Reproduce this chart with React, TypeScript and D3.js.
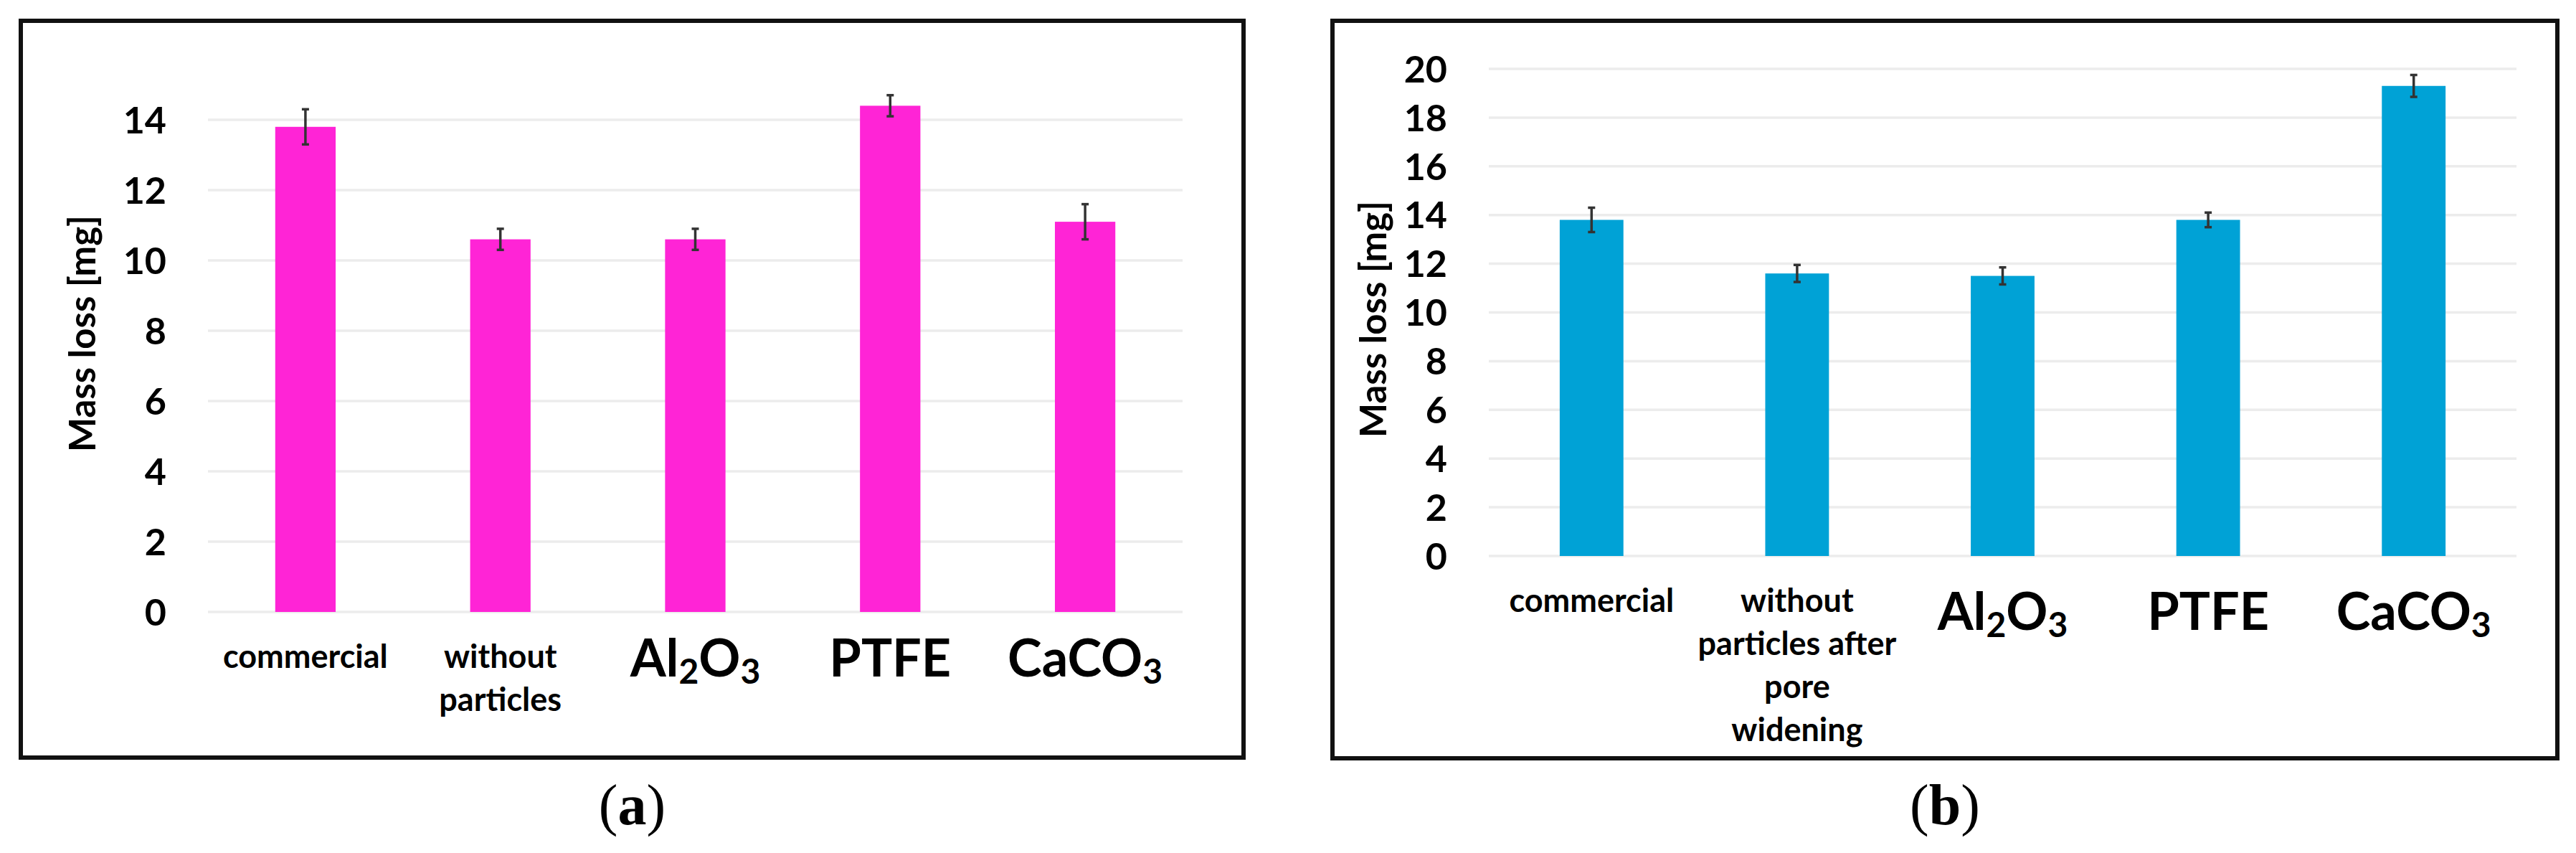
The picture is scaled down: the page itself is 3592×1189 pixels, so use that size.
import * as d3 from "d3"
import { useEffect, useRef } from "react"

const categoriesA = ["commercial", "without particles", "Al2O3", "PTFE", "CaCO3"]
const valuesA = [13.8, 10.6, 10.6, 14.4, 11.1]
const errorsA = [0.5, 0.3, 0.3, 0.3, 0.5]
const ticksA = [0, 2, 4, 6, 8, 10, 12, 14]

const categoriesB = [
  "commercial",
  "without particles after pore widening",
  "Al2O3",
  "PTFE",
  "CaCO3",
]
const valuesB = [13.8, 11.6, 11.5, 13.8, 19.3]
const errorsB = [0.5, 0.35, 0.35, 0.3, 0.45]
const ticksB = [0, 2, 4, 6, 8, 10, 12, 14, 16, 18, 20]

// labels drawn large, like the source figure
const bigLabels = ["Al2O3", "PTFE", "CaCO3"]

const lineBreaks: Record<string, string[]> = {
  "without particles": ["without", "particles"],
  "without particles after pore widening": ["without", "particles after", "pore", "widening"],
}

const FONT = "Lato, 'Open Sans', sans-serif"

type Panel = {
  cats: string[]
  values: number[]
  errors: number[]
  ticks: number[]
  yMax: number
  color: string
  frame: [number, number, number, number]
  plot: { left: number; right: number; top: number; bottom: number }
  titleX: number
  titleY: number
  bigOffset: number
  tag: string
}

const panels: Panel[] = [
  {
    cats: categoriesA,
    values: valuesA,
    errors: errorsA,
    ticks: ticksA,
    yMax: 15,
    color: "#ff24d6",
    frame: [29, 29, 1734, 1056],
    plot: { left: 290, right: 1649, top: 118, bottom: 853 },
    titleX: 115,
    titleY: 465,
    bigOffset: 90,
    tag: "a",
  },
  {
    cats: categoriesB,
    values: valuesB,
    errors: errorsB,
    ticks: ticksB,
    yMax: 20,
    color: "#00a2d6",
    frame: [1858, 29, 3566, 1057],
    plot: { left: 2076, right: 3509, top: 96, bottom: 775 },
    titleX: 1915,
    titleY: 445,
    bigOffset: 103,
    tag: "b",
  },
]

function drawPanel(svg: d3.Selection<SVGSVGElement, unknown, null, undefined>, p: Panel) {
  const g = svg.append("g")
  const [fx0, fy0, fx1, fy1] = p.frame

  g.append("rect")
    .attr("x", fx0)
    .attr("y", fy0)
    .attr("width", fx1 - fx0)
    .attr("height", fy1 - fy0)
    .attr("fill", "#ffffff")
    .attr("stroke", "#111")
    .attr("stroke-width", 6)

  const x = d3
    .scaleBand<string>()
    .domain(p.cats)
    .range([p.plot.left, p.plot.right])
    .paddingInner(0.69)
    .paddingOuter(0.345)

  const y = d3.scaleLinear().domain([0, p.yMax]).range([p.plot.bottom, p.plot.top])

  // gridlines
  g.append("g")
    .selectAll("line")
    .data(p.ticks)
    .join("line")
    .attr("x1", p.plot.left)
    .attr("x2", p.plot.right)
    .attr("y1", (d) => y(d))
    .attr("y2", (d) => y(d))
    .attr("stroke", "#ececec")
    .attr("stroke-width", 3.5)

  // tick labels
  g.append("g")
    .selectAll("text")
    .data(p.ticks)
    .join("text")
    .attr("x", p.plot.left - 58)
    .attr("y", (d) => y(d))
    .attr("dy", "0.36em")
    .attr("text-anchor", "end")
    .attr("font-family", FONT)
    .attr("font-weight", 700)
    .attr("font-size", 52)
    .attr("fill", "#000")
    .text((d) => d)

  // axis title
  g.append("text")
    .attr("transform", `translate(${p.titleX},${p.titleY}) rotate(-90)`)
    .attr("text-anchor", "middle")
    .attr("dy", "0.35em")
    .attr("font-family", FONT)
    .attr("font-weight", 700)
    .attr("font-size", 51)
    .text("Mass loss [mg]")

  // bars
  g.append("g")
    .selectAll("rect")
    .data(p.cats)
    .join("rect")
    .attr("x", (k) => x(k)!)
    .attr("y", (_, i) => y(p.values[i]))
    .attr("width", x.bandwidth())
    .attr("height", (_, i) => y(0) - y(p.values[i]))
    .attr("fill", p.color)

  // error bars
  const eb = g.append("g").attr("stroke", "#333").attr("stroke-width", 3.5)
  p.cats.forEach((k, i) => {
    const cx = x(k)! + x.bandwidth() / 2
    const hi = y(p.values[i] + p.errors[i])
    const lo = y(p.values[i] - p.errors[i])
    eb.append("line").attr("x1", cx).attr("x2", cx).attr("y1", hi).attr("y2", lo)
    eb.append("line").attr("x1", cx - 5).attr("x2", cx + 5).attr("y1", hi).attr("y2", hi)
    eb.append("line").attr("x1", cx - 5).attr("x2", cx + 5).attr("y1", lo).attr("y2", lo)
  })

  // category labels
  const labels = g.append("g").attr("font-family", FONT).attr("font-weight", 700).attr("text-anchor", "middle")
  p.cats.forEach((k) => {
    const cx = x(k)! + x.bandwidth() / 2
    if (bigLabels.includes(k)) {
      const t = labels
        .append("text")
        .attr("x", cx)
        .attr("y", y(0) + p.bigOffset)
        .attr("font-size", 72)
      const parts = k.match(/[A-Za-z]+|\d+/g) || []
      let shifted = false
      parts.forEach((part) => {
        if (/\d/.test(part)) {
          t.append("tspan").attr("font-size", 48).attr("dy", 10).text(part)
          shifted = true
        } else {
          t.append("tspan").attr("dy", shifted ? -10 : 0).text(part)
          shifted = false
        }
      })
    } else {
      const lines = lineBreaks[k] || [k]
      lines.forEach((line, li) => {
        labels
          .append("text")
          .attr("x", cx)
          .attr("y", y(0) + 78 + li * 60)
          .attr("font-size", 45)
          .text(line)
      })
    }
  })

  // panel tag
  const tag = svg
    .append("text")
    .attr("x", (fx0 + fx1) / 2)
    .attr("y", 1149)
    .attr("text-anchor", "middle")
    .attr("font-family", "'Liberation Serif', 'Times New Roman', serif")
    .attr("font-size", 80)
  tag.append("tspan").text("(")
  tag.append("tspan").attr("font-weight", 700).text(p.tag)
  tag.append("tspan").text(")")
}

export default function App() {
  const ref = useRef<SVGSVGElement | null>(null)

  useEffect(() => {
    if (!ref.current) return
    const svg = d3.select(ref.current)
    svg.selectAll("*").remove()
    svg.append("rect").attr("width", 3592).attr("height", 1189).attr("fill", "#fff")
    panels.forEach((p) => drawPanel(svg, p))
  }, [])

  return (
    <svg
      ref={ref}
      width={3592}
      height={1189}
      style={{ position: "absolute", left: 0, top: 0, display: "block" }}
    />
  )
}
